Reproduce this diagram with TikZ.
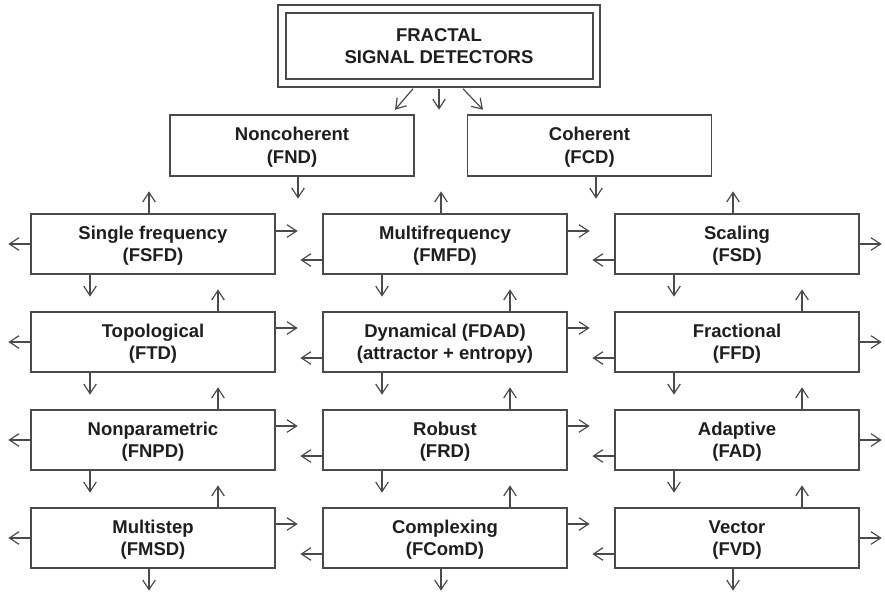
\documentclass[tikz,border=0pt]{standalone}
\usepackage{fontspec}
\setmainfont{Liberation Sans}
\usetikzlibrary{arrows.meta}
\definecolor{edge}{HTML}{4A4A4A}
\definecolor{ink}{HTML}{1E1E1E}
\begin{document}
\begin{tikzpicture}[x=1pt,y=-1pt,
  label font/.style={font=\fontsize{18.5}{22.5}\selectfont\bfseries, text=ink},
  box/.style={draw=edge, line width=1.3pt, fill=white, minimum width=244pt,
    minimum height=60pt, inner sep=0pt, align=center, text depth=0pt, label font},
  stub/.style={draw=edge, line width=1.2pt,
    -{Straight Barb[length=9.5pt,width=12.5pt]}},
]
\useasboundingbox (0,0) rectangle (885,594);

% root with double frame
\node[draw=edge, line width=2pt, double, double distance=5.5pt,
  minimum width=314.5pt, minimum height=74pt, inner sep=0pt,
  align=center, label font] (root) at (439,46) {FRACTAL\\SIGNAL DETECTORS};

% second level
\node[box, minimum height=61pt] (fnd) at (292,145.5) {Noncoherent\\(FND)};
\node[box, minimum height=61pt] (fcd) at (589.5,145.5) {Coherent\\(FCD)};

% detector grid
\node[box] (sf) at (153,244) {Single frequency\\(FSFD)};
\node[box] (mf) at (445,244) {Multifrequency\\(FMFD)};
\node[box] (sc) at (737,244) {Scaling\\(FSD)};
\node[box] (tp) at (153,342) {Topological\\(FTD)};
\node[box] (dy) at (445,342) {Dynamical (FDAD)\\(attractor + entropy)};
\node[box] (fr) at (737,342) {Fractional\\(FFD)};
\node[box] (np) at (153,440) {Nonparametric\\(FNPD)};
\node[box] (rb) at (445,440) {Robust\\(FRD)};
\node[box] (ad) at (737,440) {Adaptive\\(FAD)};
\node[box] (ms) at (153,538) {Multistep\\(FMSD)};
\node[box] (cx) at (445,538) {Complexing\\(FComD)};
\node[box] (vc) at (737,538) {Vector\\(FVD)};

% arrows leaving the root
\draw[stub] ([shift={(-26pt,-4.75pt)}]root.south) -- ++(-18pt,-21pt);
\draw[stub] ([shift={(0pt,-4.75pt)}]root.south) -- ++(0pt,-21pt);
\draw[stub] ([shift={(24pt,-4.75pt)}]root.south) -- ++(20pt,-21pt);

% arrows below the second level
\draw[stub] ([xshift=6pt]fnd.south) -- ++(0pt,-22pt);
\draw[stub] ([xshift=6.5pt]fcd.south) -- ++(0pt,-22pt);

% upward stubs
\foreach \n/\dx in {sf/-4,mf/-4,sc/-4,tp/65,dy/65,fr/65,np/65,rb/65,ad/65,ms/65,cx/65,vc/65}
  \draw[stub] ([xshift=\dx pt]\n.north) -- ++(0pt,22pt);

% downward stubs
\foreach \n/\dx in {sf/-63,mf/-63,sc/-63,tp/-63,dy/-63,fr/-63,np/-63,rb/-63,ad/-63,ms/-4,cx/-4,vc/-4}
  \draw[stub] ([xshift=\dx pt]\n.south) -- ++(0pt,-22pt);

% rightward stubs
\foreach \n/\dy in {sf/13,mf/13,sc/0,tp/14,dy/14,fr/0,np/14,rb/14,ad/0,ms/14,cx/14,vc/0}
  \draw[stub] ([yshift=\dy pt]\n.east) -- ++(22pt,0pt);

% leftward stubs
\foreach \n/\dy in {sf/0,mf/-16,sc/-16,tp/0,dy/-16,fr/-16,np/0,rb/-16,ad/-16,ms/0,cx/-16,vc/-16}
  \draw[stub] ([yshift=\dy pt]\n.west) -- ++(-22pt,0pt);
\end{tikzpicture}
\end{document}
